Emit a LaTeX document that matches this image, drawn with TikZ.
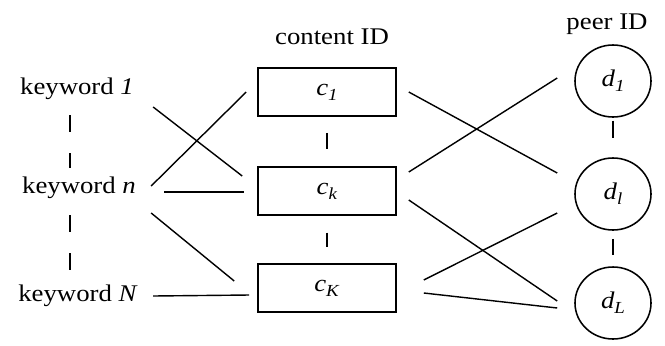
\documentclass[tikz,border=0pt]{standalone}
\usepackage{fontspec}
\setmainfont{Liberation Serif}[FakeStretch=1.12]
\usetikzlibrary{shapes.geometric}
\newcommand\idx[2]{\textit{#1}\raisebox{-0.45ex}{\fontsize{12pt}{14pt}\selectfont\textit{#2}}}

\begin{document}
\begin{tikzpicture}[x=0.025cm,y=-0.025cm]
\tikzset{kwtext/.style = {inner sep=0pt,font=\fontsize{17pt}{20pt}\selectfont},
  content/.style = {draw,rectangle,line width=1.1pt,minimum width=3.45cm,minimum height=1.2cm,font=\fontsize{17pt}{20pt}\selectfont},
  peer/.style = {draw,ellipse,line width=1.1pt,minimum width=1.9cm,minimum height=1.8cm,font=\fontsize{17pt}{20pt}\selectfont},
  link/.style = {line width=1pt}}
\fill[white] (0,0) rectangle (665,345);
% keywords and titles
\node[kwtext] (kw1) at (77,89) {keyword \textit{1}};
\node[kwtext] (kwn) at (79,188) {keyword \textit{n}};
\node[kwtext] (kwN) at (78,296) {keyword \textit{N}};
\node[kwtext] (cid) at (332,37) {content ID};
\node[kwtext] (pid) at (607,24) {peer ID};
% vertices
\foreach \y/\name/\lbl in {92/c1/1,191/ck/k,288/cK/K} {
    \node[content] (\name) at (327,\y) {\idx{c}{\lbl}};
}
\foreach \y/\name/\lbl in {81/d1/1,194/dl/l,303/dL/L} {
    \node[peer] (\name) at (613,\y) {\idx{d}{\lbl}};
}
% dots between the rows
\draw[link,dash pattern=on 12pt off 15pt] ([shift={(-7,15)}]kw1.south) -- ([shift={(-9,-9)}]kwn.north);
\draw[link,dash pattern=on 12pt off 15pt] ([shift={(-9,16)}]kwn.south) -- ([shift={(-8,-15)}]kwN.north);
\draw[link,shorten <=11.4pt,shorten >=12pt] (c1) -- (ck);
\draw[link,shorten <=12pt,shorten >=11.4pt] (ck) -- (cK);
\draw[link,shorten <=2pt,shorten >=14pt] (d1) -- (dl);
\draw[link,shorten <=5.7pt,shorten >=7.8pt] (dl) -- (dL);
% edges
\foreach \i/\si/\j/\sj in {kw1/{(19,18)}/ck/{(-15,-15)}, kwn/{(15,-2)}/c1/{(-11,0)},
    kwn/{(28,4)}/ck/{(-13,1)}, kwn/{(15,25)}/cK/{(-23,-7)}, kwN/{(15,0)}/cK/{(-8,7)},
    c1/{(12,0)}/dl/{(-17,-21)}, ck/{(12,-19)}/d1/{(-17,-3)}, ck/{(12,9)}/dL/{(-17,-2)},
    cK/{(27,-8)}/dl/{(-17,19)}, cK/{(27,5)}/dL/{(-17,5)}} {
    \draw[link] ([shift=\si]\i.east) -- ([shift=\sj]\j.west);
}
\end{tikzpicture}
\end{document}
